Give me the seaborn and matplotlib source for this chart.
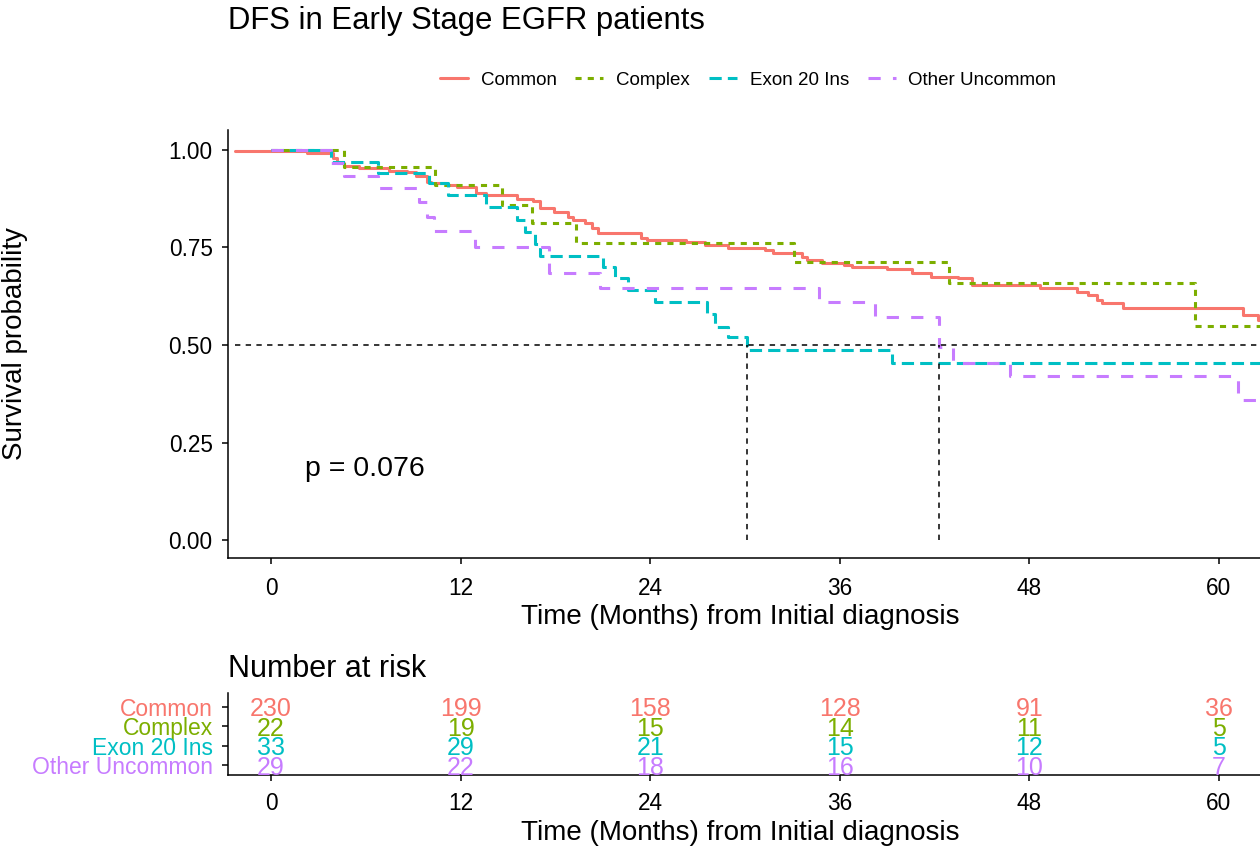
import numpy as np
import pandas as pd
import matplotlib
matplotlib.use("Agg")
import matplotlib.pyplot as plt
from matplotlib.lines import Line2D
import seaborn as sns

# ---- data -----------------------------------------------------------------
groups = ["Common", "Complex", "Exon 20 Ins", "Other Uncommon"]
colors = ["#F8766D", "#7CAE00", "#00BFC4", "#C77CFF"]

# Kaplan-Meier step curves: event times (months) and survival after each step
common_t = [-2.3, 0.1, 2.3, 3.9, 4.2, 4.6, 5.6, 7.5, 8.6, 9.2, 9.9, 10.1, 11.1,
            11.8, 13.0, 13.6, 15.6, 16.6, 17.0, 17.9, 18.8, 19.1, 19.9, 20.3,
            20.7, 23.4, 23.8, 26.3, 27.5, 28.9, 31.3, 31.8, 33.6, 33.9, 34.9,
            36.3, 36.8, 39.0, 40.6, 41.8, 43.5, 44.4, 48.7, 51.0, 51.7, 52.3,
            52.6, 53.9, 61.5, 62.5]
common_s = [0.998, 0.996, 0.992, 0.980, 0.967, 0.960, 0.953, 0.946, 0.943,
            0.932, 0.919, 0.915, 0.910, 0.906, 0.889, 0.885, 0.874, 0.868,
            0.851, 0.842, 0.829, 0.821, 0.812, 0.799, 0.786, 0.774, 0.769,
            0.765, 0.756, 0.748, 0.744, 0.735, 0.726, 0.718, 0.709, 0.705,
            0.699, 0.694, 0.684, 0.675, 0.671, 0.654, 0.645, 0.637, 0.628,
            0.615, 0.608, 0.594, 0.577, 0.564]

complex_t = [0, 4.6, 10.4, 14.6, 16.5, 19.3, 33.1, 42.9, 58.5]
complex_s = [1.0, 0.955, 0.909, 0.859, 0.812, 0.762, 0.712, 0.660, 0.548]

exon_t = [0, 3.8, 6.8, 10.0, 11.2, 13.6, 15.6, 16.1, 16.7, 17.0, 21.0, 21.8,
          22.6, 24.3, 27.6, 28.1, 28.9, 30.1, 39.3]
exon_s = [1.0, 0.970, 0.942, 0.915, 0.885, 0.853, 0.820, 0.790, 0.758, 0.727,
          0.701, 0.671, 0.641, 0.611, 0.579, 0.547, 0.520, 0.487, 0.455]

other_t = [0, 3.8, 4.6, 6.8, 9.4, 9.9, 10.3, 12.9, 17.6, 20.8, 34.7, 38.2,
           42.3, 43.2, 46.8, 61.2]
other_s = [1.0, 0.966, 0.932, 0.902, 0.866, 0.828, 0.791, 0.752, 0.684, 0.645,
           0.609, 0.571, 0.495, 0.455, 0.420, 0.359]

follow_up_end = 63.0          # last follow-up time of every stratum
median_start = -2.3           # left end of the 50 % reference line
median_times = [30.1, 42.3]   # medians reached (Exon 20 Ins, Other Uncommon)
p_value = "p = 0.076"

risk_times = [0, 12, 24, 36, 48, 60]
risk_common = [230, 199, 158, 128, 91, 36]
risk_complex = [22, 19, 15, 14, 11, 5]
risk_exon = [33, 29, 21, 15, 12, 5]
risk_other = [29, 22, 18, 16, 10, 7]

x_ticks = [0, 12, 24, 36, 48, 60]
y_ticks = [0.0, 0.25, 0.5, 0.75, 1.0]
y_tick_labels = ["0.00", "0.25", "0.50", "0.75", "1.00"]

# ---- long table for seaborn -------------------------------------------------
curves = {"Common": (common_t, common_s), "Complex": (complex_t, complex_s),
          "Exon 20 Ins": (exon_t, exon_s), "Other Uncommon": (other_t, other_s)}
rows = []
for g, (tt, ss) in curves.items():
    for t, s in zip(list(tt) + [follow_up_end], list(ss) + [ss[-1]]):
        rows.append({"time": t, "surv": s, "group": g})
df = pd.DataFrame(rows)

risk = {"Common": risk_common, "Complex": risk_complex,
        "Exon 20 Ins": risk_exon, "Other Uncommon": risk_other}

# ---- style ------------------------------------------------------------------
sns.set_style("ticks")
plt.rcParams["font.family"] = ["Liberation Sans", "DejaVu Sans"]
plt.rcParams.update({"axes.linewidth": 1.1, "text.color": "black",
                     "axes.labelcolor": "black", "xtick.color": "black",
                     "ytick.color": "black", "axes.edgecolor": "black"})

W, H = 1260, 849
fig = plt.figure(figsize=(W / 100, H / 100), dpi=100)


def fx(px):
    return px / W


def fy(py):
    return 1 - py / H


dash_map = {"Common": "", "Complex": (2, 2),
            "Exon 20 Ins": (4, 2), "Other Uncommon": (4, 4)}
palette = dict(zip(groups, colors))
LW = 2.2
xlim = (-2.72, 62.6)

# ---- survival panel ---------------------------------------------------------
ax = fig.add_axes([fx(228), fy(558), fx(1260) - fx(228), fy(130) - fy(558)])
sns.lineplot(data=df, x="time", y="surv", hue="group", style="group",
             hue_order=groups, style_order=groups, palette=palette,
             dashes=dash_map, drawstyle="steps-post", estimator=None,
             sort=False, linewidth=LW, legend=False, ax=ax,
             dash_capstyle="butt")

ax.hlines(0.5, median_start, follow_up_end, colors="black", linewidth=1.1,
          linestyles=(0, (3.5, 3.5)))
ax.vlines(median_times, 0, 0.5, colors="black", linewidth=1.1,
          linestyles=(0, (3.5, 3.5)))

ax.text(2.15, 0.164, p_value, fontsize=20.5, ha="left", va="baseline")

ax.set_xlim(*xlim)
ax.set_ylim(-0.046, 1.051)
ax.set_xticks(x_ticks)
ax.set_yticks(y_ticks)
ax.set_yticklabels(y_tick_labels)
ax.tick_params(axis="both", length=4, width=1.1, labelsize=16.3,
               colors="black")
ax.tick_params(axis="y", pad=7)
ax.tick_params(axis="x", pad=9.5)
for sp in ("top", "right"):
    ax.spines[sp].set_visible(False)
ax.set_xlabel("Time (Months) from Initial diagnosis", fontsize=20)
ax.xaxis.set_label_coords((740 - 228) / 1032, (558 - 624) / 428)
ax.xaxis.label.set_va("baseline")
ax.set_ylabel("Survival probability", fontsize=20)
ax.yaxis.set_label_coords((15 - 228) / 1032, 0.5)
ax.yaxis.label.set_va("center")

# ---- legend -----------------------------------------------------------------
handles = [Line2D([0], [0], color=palette[g], linewidth=LW,
                  dashes=dash_map[g] if dash_map[g] else (None, None),
                  dash_capstyle="butt") for g in groups]
fig.legend(handles, groups, loc="center", bbox_to_anchor=(fx(748), fy(80)),
           ncol=4, frameon=False, fontsize=13.5, handlelength=1.5,
           handletextpad=0.68, columnspacing=1.0)

fig.text(fx(228), fy(29), "DFS in Early Stage EGFR patients", fontsize=22.4,
         ha="left", va="baseline")

# ---- number-at-risk table ---------------------------------------------------
rax = fig.add_axes([fx(228), fy(775), fx(1260) - fx(228), fy(693) - fy(775)])
row_y = {g: len(groups) - i for i, g in enumerate(groups)}
for g in groups:
    for t, n in zip(risk_times, risk[g]):
        rax.text(t, row_y[g], str(n), color=palette[g], fontsize=18,
                 ha="center", va="center_baseline")
rax.set_xlim(*xlim)
rax.set_ylim(0.483, 4.724)
rax.set_xticks(x_ticks)
rax.set_yticks([row_y[g] for g in groups])
rax.set_yticklabels(groups)
rax.tick_params(axis="both", length=4, width=1.1, labelsize=16.3,
                colors="black")
rax.tick_params(axis="y", labelsize=16.5, pad=7)
for lab, g in zip(rax.get_yticklabels(), groups):
    lab.set_color(palette[g])
rax.tick_params(axis="x", pad=8)
for sp in ("top", "right"):
    rax.spines[sp].set_visible(False)
rax.set_xlabel("Time (Months) from Initial diagnosis", fontsize=20)
rax.xaxis.set_label_coords((740 - 228) / 1032, (775 - 840) / 82)
rax.xaxis.label.set_va("baseline")

fig.text(fx(228), fy(677), "Number at risk", fontsize=22, ha="left",
         va="baseline")

fig.savefig("out.png", dpi=100)
